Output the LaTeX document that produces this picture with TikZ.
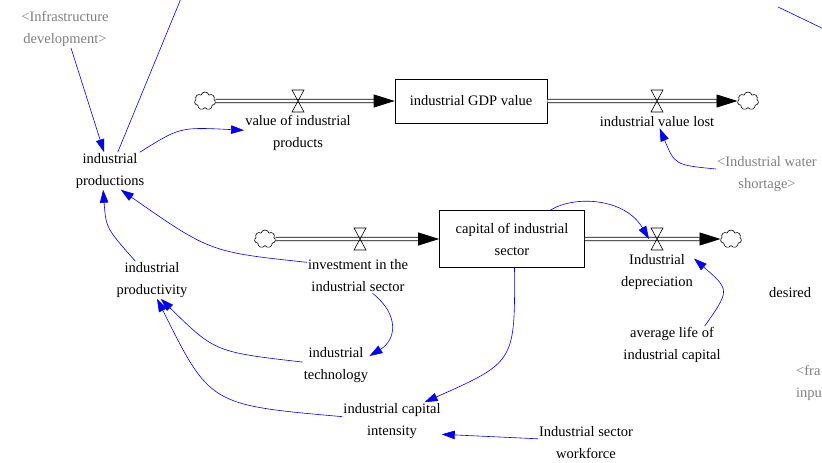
\documentclass[tikz,border=0pt]{standalone}
\usepackage{fontspec}
\setmainfont{Liberation Serif}
\usetikzlibrary{arrows.meta,shapes.symbols}

\begin{document}
\begin{tikzpicture}[x=1pt,y=-1pt,
    var/.style={align=center,font=\fontsize{14.5}{22}\selectfont,inner sep=1pt},
    shadow/.style={var,text=black!50},
    stock/.style={var,draw,line width=0.7pt,minimum width=#1},
    link/.style={draw=blue,line width=0.6pt,-{Triangle[length=13pt,width=8.5pt]}},
    pipe/.style={double,double distance=2.6pt,line width=0.8pt,
      -{Triangle[length=21pt,width=13pt]}},
    cloudy/.style={cloud,draw,cloud puffs=7,minimum width=21pt,minimum height=18pt,
      inner sep=0pt,line width=0.6pt},
    valve/.pic={\draw[line width=0.6pt] (-6,-11) -- (6,-11) -- (-6,11) -- (6,11) -- cycle;}]
    \useasboundingbox (0,0) rectangle (822,463);
    \clip (0,0) rectangle (822,463);

    % stocks and flows
    \node[stock=152pt,minimum height=44pt] (gdp) at (471,101) {industrial GDP value};
    \node[stock=145pt,minimum height=57pt] (cap) at (512,239) {capital of industrial\\sector};
    \node[cloudy] (c1) at (205,101) {};
    \node[cloudy] (c2) at (748,101) {};
    \node[cloudy] (c3) at (265,239) {};
    \node[cloudy] (c4) at (731,239) {};
    \draw[pipe] (c1) -- (gdp);
    \draw[pipe] (gdp) -- (c2);
    \draw[pipe] (c3) -- (cap);
    \draw[pipe] (cap) -- (c4);
    \foreach \x/\y in {298/101,657/101,360/239,657/239}{
        \pic at (\x,\y) {valve};
      }
    \coordinate (v4) at (649,239);

    % variables
    \node[shadow] (infra) at (65,29) {<Infrastructure\\development>};
    \node[var] (prod) at (110,171) {industrial\\productions};
    \node[var] (valprod) at (298,133) {value of industrial\\products};
    \node[var] (lost) at (657,122) {industrial value lost};
    \node[shadow] (water) at (767,174) {<Industrial water\\shortage>};
    \node[var] (invest) at (358,276) {investment in the\\industrial sector};
    \node[var] (deprec) at (657,272) {Industrial\\depreciation};
    \node[var] (life) at (672,345) {average life of\\industrial capital};
    \node[var,anchor=west] (desired) at (768,293) {desired};
    \node[shadow,anchor=west,align=left] (frac) at (795,383) {<fra\\inpu};
    \node[var] (prodty) at (152,280) {industrial\\productivity};
    \node[var] (tech) at (336,365) {industrial\\technology};
    \node[var] (intens) at (392,421) {industrial capital\\intensity};
    \node[var] (wf) at (586,443) {Industrial sector\\workforce};
    \coordinate (up1) at (182,-4);
    \coordinate (up2a) at (778,7);
    \coordinate (up2b) at (826,30);

    % links
    \draw[link] (infra) -- (prod);
    \draw[draw=blue,line width=0.6pt] (prod) -- (up1);
    \draw[draw=blue,line width=0.6pt] (up2a) -- (up2b);
    \draw[link] (prod) .. controls (180,127) .. (valprod);
    \draw[link] (water) .. controls (675,165) .. (lost);
    \draw[link] (prodty) .. controls (106,228) .. (prod.250);
    \draw[link] (invest.165) .. controls (210,252) .. (prod.300);
    \draw[link] (invest.-50) .. controls (400,315) and (396,340) .. (tech.15);
    \draw[link] (tech.175) .. controls (215,352) .. (prodty.-65);
    \draw[link] (intens.175) .. controls (210,405) .. (prodty.-75);
    \draw[link] (cap.-85) .. controls (515,362) .. (intens.30);
    \draw[link] (wf.175) -- (intens.-15);
    \draw[link] (cap.37) .. controls (575,195) and (625,198) .. (v4);
    \draw[link] (life.30) .. controls (730,290) .. (deprec.20);
  \end{tikzpicture}
\end{document}
